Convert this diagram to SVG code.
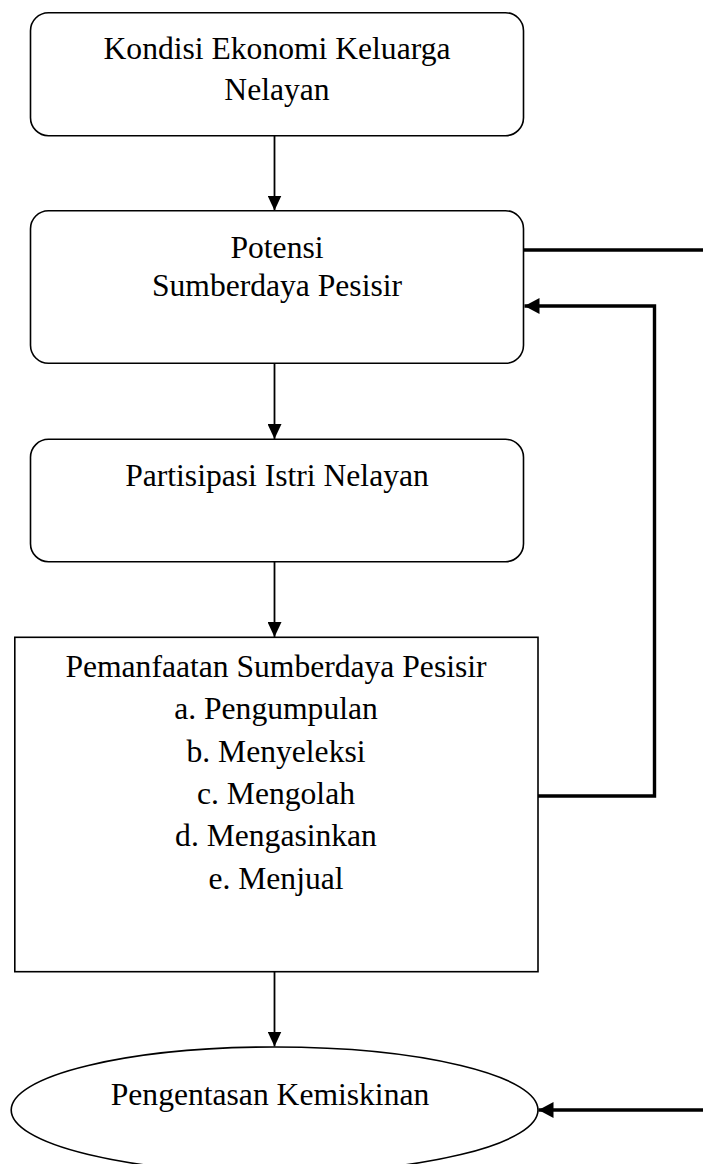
<svg xmlns="http://www.w3.org/2000/svg" width="703" height="1164" viewBox="0 0 703 1164">
<defs>
<style>
.box{fill:#fff;stroke:#000;stroke-width:1.6}
.t{font-family:"Liberation Serif","Times New Roman",serif;font-size:31.6px;fill:#000;text-anchor:middle}
.thin{fill:none;stroke:#000;stroke-width:1.8}
.thick{fill:none;stroke:#000;stroke-width:3.4}
</style>
<marker id="ah" markerUnits="userSpaceOnUse" markerWidth="16" markerHeight="14" refX="15" refY="7" orient="auto">
<path d="M0,0 L15,7 L0,14 Z" fill="#000"/>
</marker>
<marker id="ahb" markerUnits="userSpaceOnUse" markerWidth="16" markerHeight="16" refX="15" refY="8" orient="auto">
<path d="M0,0 L15,8 L0,16 Z" fill="#000"/>
</marker>
</defs>
<rect width="703" height="1164" fill="#fff"/>
<g id="connectors">
<line class="thin" x1="274.5" y1="136" x2="274.5" y2="210.5" marker-end="url(#ah)"/>
<line class="thin" x1="274.5" y1="364" x2="274.5" y2="439" marker-end="url(#ah)"/>
<line class="thin" x1="274.5" y1="562" x2="274.5" y2="637" marker-end="url(#ah)"/>
<line class="thin" x1="274.5" y1="972" x2="274.5" y2="1046.5" marker-end="url(#ah)"/>
<line class="thick" x1="524" y1="250" x2="703" y2="250"/>
<polyline class="thick" points="538,796 654.5,796 654.5,306 524.5,306" marker-end="url(#ahb)"/>
<line class="thick" x1="703" y1="1110" x2="538.5" y2="1110" marker-end="url(#ahb)"/>
</g>
<g id="node-kondisi">
<rect class="box" x="30.5" y="12.7" width="493" height="123" rx="18" ry="18"/>
<text class="t" x="277" y="59">Kondisi Ekonomi Keluarga</text>
<text class="t" x="277" y="100">Nelayan</text>
</g>
<g id="node-potensi">
<rect class="box" x="30.5" y="210.7" width="493" height="152.6" rx="18" ry="18"/>
<text class="t" x="277" y="258">Potensi</text>
<text class="t" x="277" y="296">Sumberdaya Pesisir</text>
</g>
<g id="node-partisipasi">
<rect class="box" x="30.5" y="439.3" width="493" height="122.4" rx="18" ry="18"/>
<text class="t" x="277" y="486">Partisipasi Istri Nelayan</text>
</g>
<g id="node-pemanfaatan">
<rect class="box" x="14.8" y="637.3" width="523.2" height="334.4"/>
<text class="t" x="276" y="677">Pemanfaatan Sumberdaya Pesisir</text>
<text class="t" x="276" y="718.5">a. Pengumpulan</text>
<text class="t" x="276" y="761.5">b. Menyeleksi</text>
<text class="t" x="276" y="804">c. Mengolah</text>
<text class="t" x="276" y="846">d. Mengasinkan</text>
<text class="t" x="276" y="889">e. Menjual</text>
</g>
<g id="node-pengentasan">
<ellipse class="box" cx="274.6" cy="1110" rx="263.4" ry="63"/>
<text class="t" x="270" y="1105">Pengentasan Kemiskinan</text>
</g>
</svg>
